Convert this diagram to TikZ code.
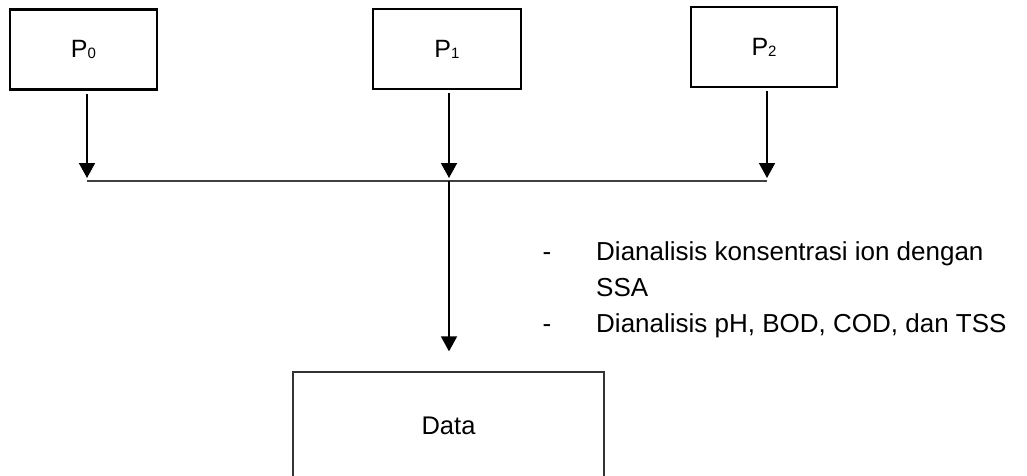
\documentclass[tikz,border=0pt]{standalone}
\usepackage{fontspec}
\usepackage{graphicx}
\setmainfont{Liberation Sans}
\usetikzlibrary{arrows.meta}

\tikzset{
  pbox/.style={draw=black, line width=2.4pt, minimum width=147pt, minimum height=80pt,
    inner sep=0pt, font=\fontsize{25}{25}\selectfont},
  databox/.style={draw=black!80, line width=1.3pt, minimum width=311pt, minimum height=108pt,
    inner sep=0pt, font=\fontsize{25.5}{25.5}\selectfont},
  arr/.style={draw=black, line width=1.6pt, -{Triangle[width=16pt,length=15pt]}},
  hline/.style={draw=black!75, line width=1.5pt},
  body/.style={inner sep=0pt, anchor=base west, font=\fontsize{26}{26}\selectfont},
  dashmark/.style={inner sep=0pt, anchor=base, font=\fontsize{26}{26}\selectfont}
}
% subscript index for the sample labels
\newcommand{\psub}[1]{P\raisebox{-1pt}{\fontsize{15}{15}\selectfont #1}}

\begin{document}
\begin{tikzpicture}[x=1pt, y=-1pt]
  \useasboundingbox (0,0) rectangle (1027,475);
  \clip (0,0) rectangle (1027,475);

  % sample boxes
  \node[pbox] (p0) at (83.5,49.5) {\psub{0}};
  \node[pbox, minimum width=148pt] (p1) at (447,49) {\psub{1}};
  \node[pbox, minimum width=146pt] (p2) at (764,47) {\psub{2}};

  % collecting line
  \coordinate (j0) at (87,181);
  \coordinate (j1) at (449,181);
  \coordinate (j2) at (767,181);
  \draw[hline] (j0) -- (j2);

  \draw[arr] ([yshift=-3pt]p0.south -| j0) -- ([yshift=3pt]j0);
  \draw[arr] ([yshift=-3pt]p1.south -| j1) -- ([yshift=3pt]j1);
  \draw[arr] ([yshift=-3pt]p2.south -| j2) -- ([yshift=3pt]j2);

  % result box
  \node[databox] (data) at (448.5,426) {Data};
  \draw[arr] (j1) -- ([yshift=20pt]data.north -| j1);

  % analysis notes
  \node[dashmark] (d1) at (547,260) {-};
  \node[body] (t1) at (596,260) {Dianalisis konsentrasi ion dengan};
  \node[body] (t2) at (596,296) {SSA};
  \node[dashmark] (d3) at (547,332) {-};
  \node[body] (t3) at (596,332) {Dianalisis pH, BOD, COD, dan TSS};
\end{tikzpicture}
\end{document}
